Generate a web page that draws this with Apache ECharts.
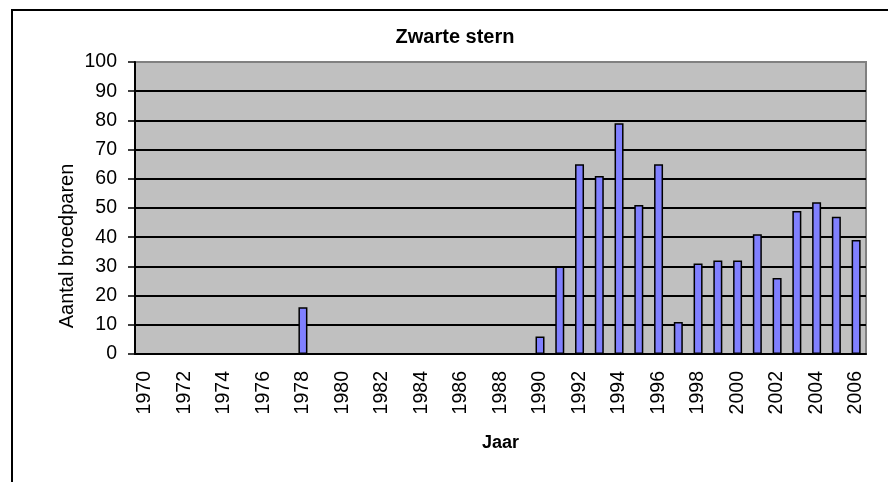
<!DOCTYPE html>
<html>
<head>
	<meta charset="utf-8">
	<title>Zwarte stern</title>
	<script src="https://cdn.jsdelivr.net/npm/echarts@6/dist/echarts.min.js"></script>
	<style>
		html, body { margin: 0; padding: 0; background: #fff; }
		#chart { width: 888px; height: 482px; }
	</style>
</head>
<body>
<div id="chart"></div>
<script>
	// jaren 1970 - 2006
	var jaren = ['1970','1971','1972','1973','1974','1975','1976','1977','1978','1979',
		'1980','1981','1982','1983','1984','1985','1986','1987','1988','1989',
		'1990','1991','1992','1993','1994','1995','1996','1997','1998','1999',
		'2000','2001','2002','2003','2004','2005','2006'];
	// aantal broedparen per jaar
	var broedparen = [0,0,0,0,0,0,0,0,16,0,
		0,0,0,0,0,0,0,0,0,0,
		6,30,65,61,79,51,65,11,31,32,
		32,41,26,49,52,47,39];
	var yTicks = [0, 100, 10]; // min, max, stap

	var chart = echarts.init(document.getElementById('chart'));
	var font = 'Liberation Sans, Arial, sans-serif';

	chart.setOption({
		animation: false,
		title: {
			text: 'Zwarte stern',
			left: 450,
			top: 22,
			textAlign: 'center',
			textStyle: { fontFamily: font, fontSize: 20, fontWeight: 'bold', color: '#000' }
		},
		graphic: [{
			// kader om de grafiek
			type: 'rect',
			shape: { x: 12, y: 10, width: 900, height: 520 },
			style: { fill: 'none', stroke: '#000', lineWidth: 2 },
			silent: true
		}, {
			// y-as titel, gecentreerd op de hele grafiek (zoals Excel)
			type: 'text',
			x: 67,
			y: 246,
			rotation: Math.PI / 2,
			style: {
				text: 'Aantal broedparen',
				align: 'center',
				verticalAlign: 'middle',
				font: '20px Liberation Sans, Arial, sans-serif',
				fill: '#000'
			},
			silent: true
		}],
		grid: {
			left: 135, right: 22, top: 62, bottom: 128,
			show: true,
			backgroundColor: '#C0C0C0',
			borderColor: '#808080',
			borderWidth: 2
		},
		xAxis: {
			type: 'category',
			data: jaren,
			boundaryGap: true,
			name: 'Jaar',
			nameLocation: 'middle',
			nameGap: 80,
			nameMoveOverlap: false,
			nameTextStyle: { fontFamily: font, fontSize: 18, fontWeight: 'bold', color: '#000' },
			axisLine: { lineStyle: { color: '#000', width: 2 } },
			axisTick: { interval: 0, length: 6, lineStyle: { color: '#000', width: 1.5 } },
			axisLabel: {
				interval: 1,
				rotate: 90,
				margin: 17,
				fontFamily: font,
				fontSize: 19.5,
				color: '#000'
			}
		},
		yAxis: {
			type: 'value',
			min: yTicks[0],
			max: yTicks[1],
			interval: yTicks[2],
			axisLine: { show: true, lineStyle: { color: '#000', width: 2 } },
			axisTick: { show: true, length: 7, lineStyle: { color: '#000', width: 1.5 } },
			axisLabel: { margin: 18, fontFamily: font, fontSize: 19.5, color: '#000' },
			splitLine: { showMaxLine: false, lineStyle: { color: '#000', width: 2 } }
		},
		series: [{
			type: 'bar',
			data: broedparen,
			barWidth: 9,
			itemStyle: { color: '#8080FF', borderColor: '#000', borderWidth: 1.5 }
		}]
	});
	window.onresize = chart.resize;
</script>
</body>
</html>
